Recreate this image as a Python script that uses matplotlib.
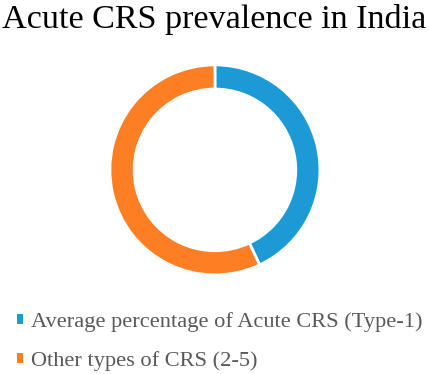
import matplotlib
matplotlib.use('Agg')
import matplotlib.pyplot as plt

labels = ['Average percentage of Acute CRS (Type-1)', 'Other types of CRS (2-5)']
values = [43, 57]
colors = ['#1b9ad6', '#fd7e23']

fig = plt.figure(figsize=(4.29, 3.74), dpi=100)
fig.patch.set_facecolor('white')

ax = fig.add_axes([0.256, 0.265, 0.49, 0.5615])
wedges, _ = ax.pie(values, colors=colors, startangle=90, counterclock=False,
                   radius=1.0, wedgeprops=dict(width=0.23, edgecolor='white', linewidth=2))
ax.set_xlim(-1, 1)
ax.set_ylim(-1, 1)
ax.set_aspect('equal')
ax.axis('off')

fig.text(0.5, 0.99, 'Acute CRS prevalence in India', ha='center', va='top',
         fontsize=24.6, family='Liberation Serif', color='black')

leg = fig.legend(wedges, labels, loc='upper left', bbox_to_anchor=(0.04, 0.165),
                 frameon=False, handlelength=0.27, handleheight=0.27, handletextpad=0.33,
                 labelspacing=0.85, borderpad=0, borderaxespad=0,
                 prop={'family': 'Liberation Serif', 'size': 16.1})
for t in leg.get_texts():
    t.set_color('#595959')
for h in leg.legend_handles:
    h.set_edgecolor('none')

fig.savefig('out.png', dpi=100, facecolor='white')
